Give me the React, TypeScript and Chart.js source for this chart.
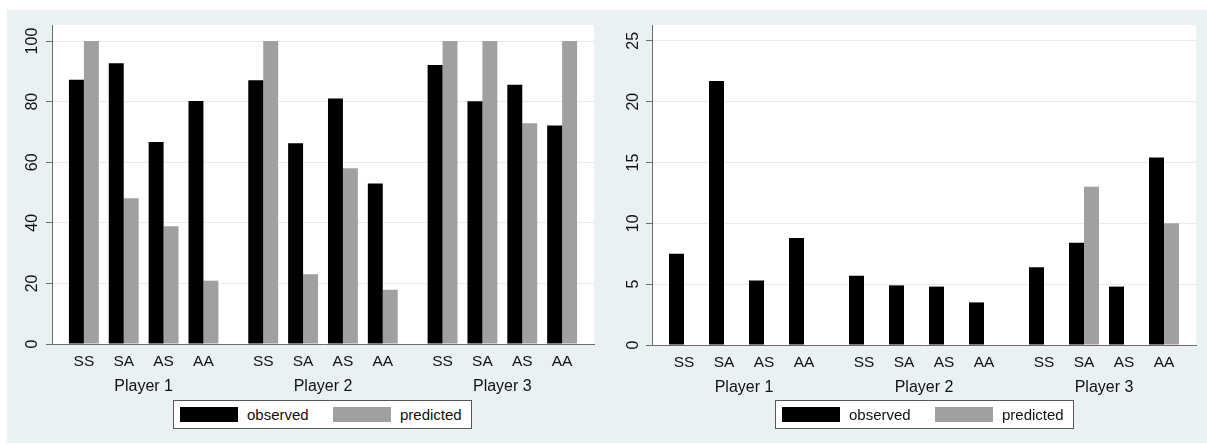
import React, { useEffect, useRef } from "react";
import { Chart, registerables } from "chart.js";

Chart.register(...registerables);

// ---- data ----
const groups = ["Player 1", "Player 2", "Player 3"];
const strategies = ["SS", "SA", "AS", "AA"];
const seriesNames = ["observed", "predicted"];

const leftObserved = [87.2, 92.7, 66.7, 80.2, 87.1, 66.3, 81.0, 53.0, 92.1, 80.1, 85.6, 72.1];
const leftPredicted = [100, 48.1, 38.9, 20.9, 100, 23.0, 58.0, 17.9, 100, 100, 72.9, 100];
const leftYTicks = [0, 20, 40, 60, 80, 100];

const rightObserved = [7.5, 21.7, 5.3, 8.8, 5.7, 4.9, 4.8, 3.5, 6.4, 8.4, 4.8, 15.4];
const rightPredicted: (number | null)[] = [null, null, null, null, null, null, null, null, null, 13.0, null, 10.0];
const rightYTicks = [0, 5, 10, 15, 20, 25];

// ---- layout / style constants ----
const GROUP_STEP = 4.5;
const FONT = "'Liberation Sans', Arial, Helvetica, sans-serif";
const BG = "#eaf1f3";
const GRID = "#e3ecef";
const AXIS = "#6b6b6b";
const OBS_COLOR = "#000000";
const PRED_COLOR = "#a0a0a0";
const TEXT = "#111111";

const slotPositions: number[] = [];
const slotLabels: string[] = [];
groups.forEach((_, g) => {
  strategies.forEach((s, j) => {
    slotPositions.push(g * GROUP_STEP + j);
    slotLabels.push(s);
  });
});
const groupPositions = groups.map((_, g) => g * GROUP_STEP + (strategies.length - 1) / 2);

function findLabel(value: number, positions: number[], labels: string[]) {
  const i = positions.findIndex((p) => Math.abs(p - value) < 1e-6);
  return i >= 0 ? labels[i] : "";
}

const plotBg = {
  id: "plotBg",
  beforeDraw(chart: any) {
    const { ctx, chartArea } = chart;
    ctx.save();
    ctx.fillStyle = "#ffffff";
    ctx.fillRect(chartArea.left, chartArea.top, chartArea.right - chartArea.left, chartArea.bottom - chartArea.top);
    ctx.restore();
  },
};

type PanelProps = {
  left: number;
  width: number;
  observed: (number | null)[];
  predicted: (number | null)[];
  yMax: number;
  yTicks: number[];
  yPad: number;
  axisWidth: number;
  padRight: number;
  padBottom: number;
};

function Panel(p: PanelProps) {
  const ref = useRef<HTMLCanvasElement>(null);
  useEffect(() => {
    const toPoints = (arr: (number | null)[]) => arr.map((v, i) => ({ x: slotPositions[i], y: v }));
    const xMin = slotPositions[0] - 0.8;
    const xMax = slotPositions[slotPositions.length - 1] + 0.8;
    const chart = new Chart(ref.current as HTMLCanvasElement, {
      type: "bar",
      data: {
        datasets: [
          {
            label: seriesNames[0],
            data: toPoints(p.observed) as any,
            backgroundColor: OBS_COLOR,
            borderWidth: 0,
            barPercentage: 1,
            categoryPercentage: 0.75,
            xAxisID: "x",
          },
          {
            label: seriesNames[1],
            data: toPoints(p.predicted) as any,
            backgroundColor: PRED_COLOR,
            borderWidth: 0,
            barPercentage: 1,
            categoryPercentage: 0.75,
            xAxisID: "x",
          },
        ],
      },
      options: {
        responsive: false,
        animation: false,
        layout: { padding: { left: 0, top: 15, right: p.padRight, bottom: p.padBottom } },
        plugins: { legend: { display: false }, tooltip: { enabled: false } },
        scales: {
          x: {
            type: "linear",
            position: "bottom",
            offset: false,
            weight: 0,
            min: xMin,
            max: xMax,
            grid: { display: false, drawTicks: false, offset: false },
            border: { display: true, color: AXIS, width: 1 },
            afterBuildTicks: (scale: any) => {
              scale.ticks = slotPositions.map((v) => ({ value: v }));
            },
            afterFit: (scale: any) => {
              scale.height = 27;
            },
            ticks: {
              autoSkip: false,
              maxRotation: 0,
              minRotation: 0,
              padding: 8,
              color: TEXT,
              font: { family: FONT, size: 15.5 },
              callback: (v: any) => findLabel(Number(v), slotPositions, slotLabels),
            },
          },
          x2: {
            type: "linear",
            position: "bottom",
            offset: false,
            weight: 1,
            min: xMin,
            max: xMax,
            grid: { display: false, drawTicks: false, offset: false },
            border: { display: false },
            afterBuildTicks: (scale: any) => {
              scale.ticks = groupPositions.map((v) => ({ value: v }));
            },
            afterFit: (scale: any) => {
              scale.height = 28;
            },
            ticks: {
              autoSkip: false,
              maxRotation: 0,
              minRotation: 0,
              padding: 6,
              color: TEXT,
              font: { family: FONT, size: 16 },
              callback: (v: any) => findLabel(Number(v), groupPositions, groups),
            },
          },
          y: {
            type: "linear",
            position: "left",
            min: 0,
            max: p.yMax,
            afterBuildTicks: (scale: any) => {
              scale.ticks = p.yTicks.map((v) => ({ value: v }));
            },
            afterFit: (scale: any) => {
              scale.width = p.axisWidth;
            },
            grid: { color: GRID, lineWidth: 1, tickColor: AXIS, tickLength: 6, drawTicks: true },
            border: { display: true, color: AXIS, width: 1 },
            ticks: {
              minRotation: 90,
              maxRotation: 90,
              crossAlign: "center",
              padding: p.yPad,
              color: TEXT,
              font: { family: FONT, size: 16 },
            },
          },
        },
      },
      plugins: [plotBg],
    } as any);
    return () => chart.destroy();
  }, []);
  return (
    <canvas
      ref={ref}
      width={p.width}
      height={433}
      style={{ position: "absolute", left: p.left, top: 10, width: p.width, height: 433 }}
    />
  );
}

function Legend({ left, top }: { left: number; top: number }) {
  const text: React.CSSProperties = {
    position: "absolute",
    top: 4,
    fontFamily: FONT,
    fontSize: 15,
    lineHeight: "20px",
    color: TEXT,
    whiteSpace: "nowrap",
  };
  const sw: React.CSSProperties = { position: "absolute", top: 6, width: 58, height: 15 };
  return (
    <div
      style={{
        position: "absolute",
        left,
        top,
        width: 299,
        height: 29,
        boxSizing: "border-box",
        border: "1px solid #555",
        background: "#fff",
      }}
    >
      <div style={{ ...sw, left: 6, background: OBS_COLOR }} />
      <div style={{ ...text, left: 73 }}>{seriesNames[0]}</div>
      <div style={{ ...sw, left: 159, background: PRED_COLOR }} />
      <div style={{ ...text, left: 226 }}>{seriesNames[1]}</div>
    </div>
  );
}

export default function App() {
  return (
    <div style={{ position: "absolute", left: 0, top: 0, width: 1207, height: 445, overflow: "hidden", background: "#fff" }}>
      <div style={{ position: "absolute", left: 7, top: 10, width: 1200, height: 433, background: BG }} />
      <Panel
        left={7}
        width={596}
        observed={leftObserved}
        predicted={leftPredicted}
        yMax={105.3}
        yTicks={leftYTicks}
        yPad={0}
        axisWidth={45}
        padRight={9}
        padBottom={44}
      />
      <Panel
        left={603}
        width={604}
        observed={rightObserved}
        predicted={rightPredicted}
        yMax={26.3}
        yTicks={rightYTicks}
        yPad={4}
        axisWidth={49}
        padRight={11}
        padBottom={43}
      />
      <Legend left={173} top={400} />
      <Legend left={775} top={400} />
    </div>
  );
}
